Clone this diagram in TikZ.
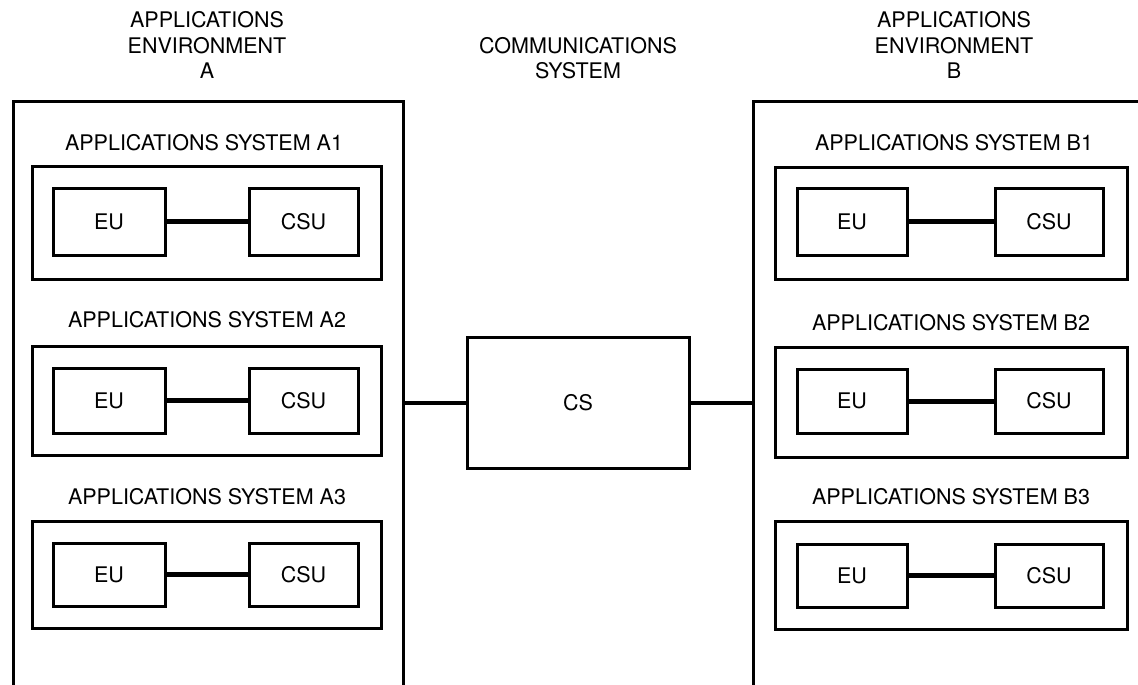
\documentclass[tikz,border=0pt]{standalone}
\usepackage{fontspec}
\setmainfont{TeX Gyre Heros}
\begin{document}
\begin{tikzpicture}[x=1pt,y=-1pt,
  every node/.style={font=\fontsize{21.5}{25.5}\selectfont},
  unitbox/.style={draw,line width=3pt,inner sep=0pt,anchor=center},
  sysbox/.style={draw,line width=3pt,inner sep=0pt,anchor=center},
  envline/.style={line width=3pt,line cap=rect},
  link/.style={line width=5pt},
  cslink/.style={line width=4.5pt},
  label/.style={inner sep=0pt,align=center,anchor=center}]
\useasboundingbox (0,0) rectangle (1138,685);
\fill[white] (0,0) rectangle (1138,685);

% headers
\node[label] (hA) at (207,45) {APPLICATIONS\\ENVIRONMENT\\A};
\node[label] (hC) at (578,58) {COMMUNICATIONS\\SYSTEM};
\node[label] (hB) at (954,45) {APPLICATIONS\\ENVIRONMENT\\B};

% environment outlines (open at bottom / right)
\draw[envline] (13,690) -- (13,101) -- (403,101) -- (403,690);
\draw[envline] (1145,101) -- (753,101) -- (753,690);
\coordinate (envAr) at (403,403);
\coordinate (envBl) at (753,403);

% environment A
\node[label] (tA1) at (204,143) {APPLICATIONS\ SYSTEM\ A1};
\node[sysbox,minimum width=349pt,minimum height=113pt] (sA1) at (206.5,222.5) {};
\node[unitbox,minimum width=112pt,minimum height=67pt] (euA1) at (109,221.5) {EU};
\node[unitbox,minimum width=109pt,minimum height=67pt] (csuA1) at (303.5,221.5) {CSU};
\draw[link] (euA1.east) -- (csuA1.west);

\node[label] (tA2) at (207,320) {APPLICATIONS\ SYSTEM\ A2};
\node[sysbox,minimum width=349pt,minimum height=109pt] (sA2) at (206.5,400.5) {};
\node[unitbox,minimum width=112pt,minimum height=65pt] (euA2) at (109,400.5) {EU};
\node[unitbox,minimum width=109pt,minimum height=65pt] (csuA2) at (303.5,400.5) {CSU};
\draw[link] (euA2.east) -- (csuA2.west);

\node[label] (tA3) at (207,497) {APPLICATIONS\ SYSTEM\ A3};
\node[sysbox,minimum width=349pt,minimum height=107pt] (sA3) at (206.5,574.5) {};
\node[unitbox,minimum width=112pt,minimum height=63pt] (euA3) at (109,574.5) {EU};
\node[unitbox,minimum width=109pt,minimum height=63pt] (csuA3) at (303.5,574.5) {CSU};
\draw[link] (euA3.east) -- (csuA3.west);

% environment B
\node[label] (tB1) at (954,143) {APPLICATIONS\ SYSTEM\ B1};
\node[sysbox,minimum width=352pt,minimum height=112pt] (sB1) at (951,223) {};
\node[unitbox,minimum width=110pt,minimum height=67pt] (euB1) at (852,221.5) {EU};
\node[unitbox,minimum width=108pt,minimum height=67pt] (csuB1) at (1049,221.5) {CSU};
\draw[link] (euB1.east) -- (csuB1.west);

\node[label] (tB2) at (951,323) {APPLICATIONS\ SYSTEM\ B2};
\node[sysbox,minimum width=352pt,minimum height=110pt] (sB2) at (951,402) {};
\node[unitbox,minimum width=110pt,minimum height=64pt] (euB2) at (852,401) {EU};
\node[unitbox,minimum width=108pt,minimum height=64pt] (csuB2) at (1049,401) {CSU};
\draw[link] (euB2.east) -- (csuB2.west);

\node[label] (tB3) at (951,497) {APPLICATIONS\ SYSTEM\ B3};
\node[sysbox,minimum width=352pt,minimum height=108pt] (sB3) at (951,575) {};
\node[unitbox,minimum width=110pt,minimum height=63pt] (euB3) at (852,575.5) {EU};
\node[unitbox,minimum width=108pt,minimum height=63pt] (csuB3) at (1049,575.5) {CSU};
\draw[link] (euB3.east) -- (csuB3.west);

% communications system
\node[unitbox,minimum width=222pt,minimum height=131pt] (CS) at (578,403) {CS};
\draw[cslink] (envAr) -- (CS.west);
\draw[cslink] (CS.east) -- (envBl);
\end{tikzpicture}
\end{document}
